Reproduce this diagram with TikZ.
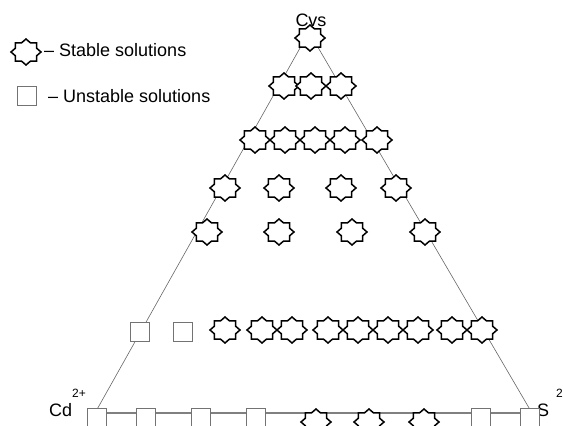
\documentclass[tikz,border=0pt]{standalone}
\usepackage{fontspec}
\setmainfont{Liberation Sans}

\tikzset{
  starline/.style={draw=black, line width=1.5pt, fill=white, line join=miter},
  stable/.pic={
    \draw[starline] (0:15 and 13)
      \foreach \k in {1,...,15}{ -- ({\k*22.5}:{15-3.5*mod(\k,2)} and {13-3.05*mod(\k,2)}) } -- cycle;
    \coordinate (-c) at (0,0);
  },
  unstable/.style={rectangle, draw=black!55, line width=0.8pt, fill=white, inner sep=0pt, minimum size=19pt},
  side/.style={draw=black!60, line width=0.6pt},
  base/.style={draw=black!50, line width=2.4pt},
  txt/.style={font=\fontsize{18}{20}\selectfont, inner sep=0pt},
  suptxt/.style={font=\fontsize{12}{13}\selectfont, inner sep=0pt},
}

\begin{document}
\begin{tikzpicture}[x=1pt,y=1pt]
\useasboundingbox (0,0) rectangle (563,426);

% Triangle
\coordinate (top) at (309,394);
\coordinate (cd) at (95,13);
\coordinate (s) at (532,13);
\draw[side] (top) -- (cd);
\draw[side] (top) -- (s);
\draw[base] (cd) -- (s);

% Legend
\pic (leg1) at (26,374) {stable};
\node[txt, anchor=base west] (legs) at (44,369) {– Stable solutions};
\node[unstable] (leg2) at (27,330) {};
\node[txt, anchor=base west] (legu) at (48,323) {– Unstable solutions};

% Corner labels
\node[txt] (cvs) at (311,406) {Cvs};
\node[txt, anchor=base west] (cdl) at (49,9) {Cd};
\node[suptxt, anchor=base west] (cdsup) at (72,28) {2+};
\node[txt, anchor=base west] (sl) at (537,9) {S};
\node[suptxt, anchor=base west] (ssup) at (556,28) {2-};

% Rows of solutions, top to bottom
\pic (r1) at (310,388) {stable};
\foreach \x [count=\i] in {284,311,341} \pic (r2-\i) at (\x,340) {stable};
\foreach \x [count=\i] in {255,285,315,345,377} \pic (r3-\i) at (\x,286) {stable};
\foreach \x [count=\i] in {225,279,341,396} \pic (r4-\i) at (\x,238) {stable};
\foreach \x [count=\i] in {207,279,352,425} \pic (r5-\i) at (\x,194) {stable};

% Row 6
\node[unstable] (u6-1) at (140,94) {};
\node[unstable] (u6-2) at (183,94) {};
\foreach \x [count=\i] in {225,262,292,328,358,388,418,452,482} \pic (r6-\i) at (\x,96) {stable};

% Base
\foreach \x [count=\i] in {97,146,201,256,481,530} \node[unstable] (u7-\i) at (\x,8) {};
\foreach \x [count=\i] in {316,369,424} \pic (r7-\i) at (\x,4) {stable};
\end{tikzpicture}
\end{document}
